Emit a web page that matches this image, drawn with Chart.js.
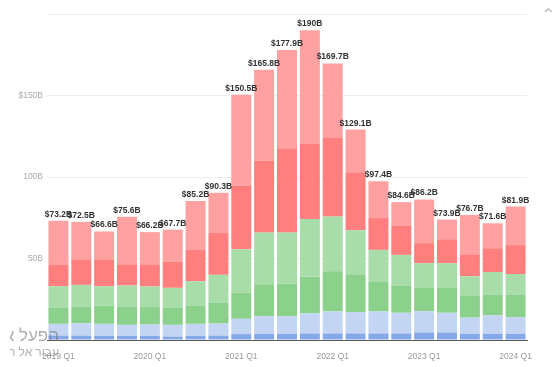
<!DOCTYPE html>
<html lang="en">
  <head>
    <title>Quarterly totals</title>
    <meta charset="utf-8" />
    <script src="https://cdn.jsdelivr.net/npm/chart.js"></script>
    <style>
      body { margin: 0; background: #fff; }
      #wrap { position: relative; width: 556px; height: 367px; overflow: hidden; }
      #wm { position: absolute; left: 10px; top: 322px; width: 49px; height: 45px; overflow: hidden; }
      .wm { position: absolute; right: 0; direction: rtl; text-align: right; white-space: nowrap; color: rgba(110,110,110,0.55); font-family: "Noto Sans", sans-serif; line-height: 1; }
      #wm1 { top: 4px; font-size: 17px; }
      #wm2 { top: 24px; font-size: 12px; }
      #up { position: absolute; left: 543px; top: 6px; color: #aaa; font: 13px "DejaVu Sans", sans-serif; }
    </style>
  </head>
  <body>
    <div id="wrap">
      <canvas id="lienzo" width="556" height="367"></canvas>
      <div id="wm">
        <div class="wm" id="wm1">הפעל את Windows</div>
        <div class="wm" id="wm2">עבור אל ההגדרות כדי להפעיל את Windows.</div>
      </div>
      <div id="up">^</div>
    </div>

    <script>
      const quarters = [
        "2019 Q1", "2019 Q2", "2019 Q3", "2019 Q4",
        "2020 Q1", "2020 Q2", "2020 Q3", "2020 Q4",
        "2021 Q1", "2021 Q2", "2021 Q3", "2021 Q4",
        "2022 Q1", "2022 Q2", "2022 Q3", "2022 Q4",
        "2023 Q1", "2023 Q2", "2023 Q3", "2023 Q4",
        "2024 Q1"
      ];

      // stacked from bottom to top, in $B
      const seg1 = [2.7, 2.7, 2.5, 2.5, 2.5, 2.1, 2.5, 2.7, 3.6, 3.8, 3.8, 4.0, 4.0, 4.0, 4.0, 4.0, 4.6, 4.6, 3.8, 3.8, 3.8];
      const seg2 = [7.2, 7.6, 7.4, 6.8, 7.0, 7.2, 7.4, 7.4, 9.4, 10.8, 10.8, 12.3, 13.5, 13.1, 13.5, 12.7, 13.1, 12.1, 9.9, 11.3, 10.2];
      const seg3 = [10.1, 10.1, 11.1, 11.3, 10.7, 10.7, 11.3, 12.6, 16.0, 19.6, 20.0, 22.6, 24.7, 22.8, 18.5, 16.8, 14.6, 15.6, 13.3, 12.9, 14.0];
      const seg4 = [13.0, 13.4, 12.0, 12.8, 12.6, 12.0, 14.8, 17.3, 26.7, 31.8, 31.4, 35.3, 33.6, 27.5, 19.3, 18.7, 14.8, 14.8, 12.1, 13.7, 12.5];
      const seg5 = [13.4, 15.7, 16.1, 13.0, 13.6, 16.1, 19.2, 25.6, 38.9, 44.0, 51.2, 46.1, 48.2, 35.5, 19.5, 17.8, 12.3, 14.7, 13.5, 14.6, 17.7];
      const seg6 = [26.8, 23.0, 17.5, 29.2, 19.8, 19.6, 30.0, 24.7, 55.9, 55.8, 60.7, 69.7, 45.7, 26.2, 22.6, 14.6, 26.8, 12.1, 24.1, 15.3, 23.7];

      const totalLabels = [
        "$73.2B", "$72.5B", "$66.6B", "$75.6B", "$66.2B", "$67.7B", "$85.2B", "$90.3B",
        "$150.5B", "$165.8B", "$177.9B", "$190B", "$169.7B", "$129.1B", "$97.4B",
        "$84.6B", "$86.2B", "$73.9B", "$76.7B", "$71.6B", "$81.9B"
      ];

      const yTicks = { 50: "50B", 100: "100B", 150: "$150B" };

      const colores = ["#87a8e8", "#c4d5f4", "#8bd18b", "#a8dca8", "#ff7e7e", "#ffa1a1"];

      const etiquetasTotales = {
        id: "etiquetasTotales",
        afterDatasetsDraw(chart) {
          const ctx = chart.ctx;
          const meta = chart.getDatasetMeta(chart.data.datasets.length - 1);
          ctx.save();
          ctx.font = "bold 8.5px 'Liberation Sans', sans-serif";
          ctx.fillStyle = "#333";
          ctx.textAlign = "center";
          ctx.textBaseline = "alphabetic";
          meta.data.forEach((bar, i) => {
            ctx.fillText(totalLabels[i], bar.x, bar.y - 4);
          });
          ctx.restore();
        }
      };

      const series = [seg1, seg2, seg3, seg4, seg5, seg6];

      new Chart(document.querySelector("#lienzo"), {
        type: "bar",
        data: {
          labels: quarters,
          datasets: series.map((d, i) => ({
            label: "Serie " + (i + 1),
            data: d,
            backgroundColor: colores[i],
            borderWidth: 0,
            categoryPercentage: 1,
            barPercentage: 0.875
          }))
        },
        options: {
          responsive: false,
          animation: false,
          layout: { padding: { top: 14, right: 29, left: 0, bottom: 0 } },
          plugins: { legend: { display: false }, tooltip: { enabled: false } },
          scales: {
            x: {
              stacked: true,
              grid: { display: false },
              border: { color: "#555", width: 1 },
              ticks: {
                autoSkip: false,
                maxRotation: 0,
                padding: 4,
                color: "#999",
                font: { family: "'Liberation Sans', sans-serif", size: 8.5 },
                callback: (v, i) => (i % 4 === 0 ? quarters[i] : "")
              },
              afterFit: (s) => { s.height = 27; }
            },
            y: {
              stacked: true,
              min: 0,
              max: 200,
              border: { display: false },
              grid: { color: "#eeeeee", drawTicks: false },
              ticks: {
                stepSize: 50,
                padding: 4,
                color: "#aaa",
                font: { family: "'Liberation Sans', sans-serif", size: 8.5 },
                callback: (v) => yTicks[v] || ""
              },
              afterFit: (s) => { s.width = 47; }
            }
          }
        },
        plugins: [etiquetasTotales]
      });
    </script>
  </body>
</html>
